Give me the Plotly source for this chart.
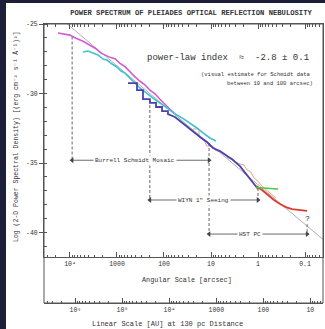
import numpy as np
import plotly.graph_objects as go

# ---------------- data ----------------
# Burrell Schmidt (magenta)
mag_s = [17990, 13430, 10000, 7450, 5290, 3750, 2800, 2190, 1800, 1409, 1103, 863, 676, 529, 414, 324, 254, 199, 155, 122, 95, 74.5, 61.3]
mag_p = [-25.65, -25.72, -25.80, -26.03, -26.24, -26.53, -26.78, -27.10, -27.25, -27.40, -27.50, -27.83, -28.07, -28.47, -28.80, -29.12, -29.37, -29.76, -30.02, -30.41, -30.74, -31.13, -31.40]

# Schmidt second field (cyan)
cyan_s = [5290, 4140, 3240, 2535, 1985, 1633, 1277, 1000, 822, 676, 529, 414, 324, 254, 199, 141, 105, 74.5, 52.8, 37.5, 28.0, 19.9, 14.8, 10.5, 7.83]
cyan_p = [-27.01, -26.94, -27.09, -27.23, -27.52, -27.59, -27.88, -28.09, -28.38, -28.53, -28.89, -29.25, -29.60, -29.89, -30.18, -30.54, -30.83, -31.19, -31.55, -31.84, -32.12, -32.48, -32.84, -33.20, -33.42]

# dark blue (steppy -> smooth)
blue_s = [583, 375, 375, 280, 280, 199, 199, 148, 148, 110, 110, 82.3, 82.3, 58.4, 45.7, 34.1, 24.2, 17.1, 12.2, 9.06, 6.44, 4.57, 3.41, 2.42, 1.71, 1.34, 1.0]
blue_p = [-29.25, -29.25, -29.75, -29.75, -30.40, -30.40, -30.68, -30.68, -30.97, -30.97, -31.26, -31.26, -31.48, -31.69, -31.98, -32.34, -32.77, -33.13, -33.49, -33.92, -34.14, -34.50, -34.78, -35.22, -35.86, -36.37, -36.87]

# WIYN (salmon, steppy)
wiyn_s = [24.2, 18.0, 18.0, 14.1, 12.2, 9.52, 8.22, 6.44, 5.04, 4.35, 3.57, 3.08, 2.42, 1.99, 1.71, 1.41, 1.22, 1.0, 0.822, 0.676, 0.556, 0.414]
wiyn_p = [-32.55, -32.55, -33.13, -33.35, -33.78, -33.78, -34.07, -34.21, -34.42, -34.64, -34.64, -34.93, -35.07, -35.14, -35.50, -35.65, -36.08, -36.30, -36.66, -36.94, -37.16, -37.52]

# HST PC (red)
hst_s = [1.10, 0.822, 0.612, 0.457, 0.340, 0.254, 0.189, 0.141, 0.110, 0.0906]
hst_p = [-36.66, -36.94, -37.30, -37.66, -37.95, -38.17, -38.31, -38.38, -38.42, -38.45]

# green short segment
green_s = [1.10, 0.64, 0.375]
green_p = [-36.76, -36.80, -36.87]

# power-law fit line (gray)
fit_slope = 2.85
fit_intercept = -36.56
fit_s = [10 ** 4.6, 10 ** -1.45]

# range markers: (label, s_left, s_right, logP, label centre s)
ranges = [
    ("Burrell Schmidt Mosaic", 9000, 11, -34.8, 10 ** 2.62),
    ("WIYN 1\" Seeing", 200, 1, -37.66, 10 ** 1.15),
    ("HST PC", 11, 0.09, -40.11, 10 ** 0.17),
]
# dashed verticals: (s, P_top, P_bottom)
vlines = [(9000, -25.9, -34.8), (200, -30.47, -37.66), (11, -33.56, -40.11),
          (1, -36.8, -37.66), (0.09, -39.4, -40.11)]

ang_ticks = [1e4, 1e3, 100, 10, 1, 0.1]
ang_text = ["10\u2074", "1000", "100", "10", "1", "0.1"]
au_ticks = [1e6, 1e5, 1e4, 1e3, 100, 10]
au_text = ["10\u2076", "10\u2075", "10\u2074", "1000", "100", "10"]
y_ticks = [-25, -30, -35, -40]
y_text = ["-25", "-30", "-35", "-40"]

# ---------------- geometry ----------------
W, H = 325, 329
L, R, T, B = 44, 2, 24, 26
PW, PH = W - L - R, H - T - B
def px(x):
    return (x - L) / PW
def py(y):
    return (H - B - y) / PH

FONT = "Liberation Mono, DejaVu Sans Mono, monospace"
TXT = "#333333"
AX = "#555555"

fig = go.Figure()

fit_p = [fit_intercept + fit_slope * np.log10(s) for s in fit_s]
fig.add_trace(go.Scatter(x=fit_s, y=fit_p, mode="lines", line=dict(color="#b0b0b0", width=1)))

for s, p0, p1 in vlines:
    fig.add_trace(go.Scatter(x=[s, s], y=[p0, p1], mode="lines",
                             line=dict(color="#666666", width=1, dash="3px,2px")))

for label, sl, sr, p, sc in ranges:
    fig.add_trace(go.Scatter(x=[sl, sr], y=[p, p], mode="lines+markers",
                             line=dict(color="#444444", width=0.8),
                             marker=dict(symbol=["triangle-left", "triangle-right"], size=5,
                                         color="#444444")))

fig.add_trace(go.Scatter(x=wiyn_s, y=wiyn_p, mode="lines", line=dict(color="#f0a084", width=1)))
fig.add_trace(go.Scatter(x=mag_s, y=mag_p, mode="lines", line=dict(color="#d35bd3", width=1.6)))
fig.add_trace(go.Scatter(x=cyan_s, y=cyan_p, mode="lines", line=dict(color="#3fc2cc", width=1.6)))
fig.add_trace(go.Scatter(x=blue_s, y=blue_p, mode="lines", line=dict(color="#4a42b0", width=1.8)))
fig.add_trace(go.Scatter(x=hst_s, y=hst_p, mode="lines", line=dict(color="#e03a2e", width=1.8)))
fig.add_trace(go.Scatter(x=green_s, y=green_p, mode="lines", line=dict(color="#3fd13f", width=1.5)))

# dummy trace to activate the AU axis
fig.add_trace(go.Scatter(x=[1e3], y=[-60], xaxis="x2", mode="markers",
                         marker=dict(opacity=0), hoverinfo="skip"))

annotations = []
for label, sl, sr, p, sc in ranges:
    annotations.append(dict(x=np.log10(sc), y=p, xref="x", yref="y", text=label,
                            showarrow=False, bgcolor="white", borderpad=1,
                            font=dict(family=FONT, size=6, color=TXT)))

annotations += [
    dict(x=np.log10(0.09), y=-38.96, xref="x", yref="y", text="?", showarrow=False,
         font=dict(family=FONT, size=8, color=TXT)),
    dict(x=px(145), y=py(58), xref="paper", yref="paper", xanchor="left", yanchor="middle",
         text="power-law index  \u2248  -2.8 \u00b1 0.1", showarrow=False,
         font=dict(family=FONT, size=9, color=TXT)),
    dict(x=px(313), y=py(75), xref="paper", yref="paper", xanchor="right", yanchor="middle",
         text="(visual estimate for Schmidt data", showarrow=False,
         font=dict(family=FONT, size=5.5, color=TXT)),
    dict(x=px(315), y=py(83), xref="paper", yref="paper", xanchor="right", yanchor="middle",
         text="between 10 and 100 arcsec)", showarrow=False,
         font=dict(family=FONT, size=5.5, color=TXT)),
    dict(x=px(187), y=py(280), xref="paper", yref="paper", xanchor="center", yanchor="middle",
         text="Angular Scale [arcsec]", showarrow=False,
         font=dict(family=FONT, size=6.8, color=TXT)),
    dict(x=px(167), y=py(324), xref="paper", yref="paper", xanchor="center", yanchor="middle",
         text="Linear Scale [AU] at 130 pc Distance", showarrow=False,
         font=dict(family=FONT, size=7, color=TXT)),
    dict(x=px(16), y=py(137), xref="paper", yref="paper", xanchor="center", yanchor="middle",
         textangle=-90,
         text="Log (2-D Power Spectral Density) [(erg cm\u207b\u00b2 s\u207b\u00b9 \u00c5\u207b\u00b9)\u00b2]",
         showarrow=False, font=dict(family=FONT, size=6.5, color=TXT)),
]

shapes = [
    dict(type="rect", xref="paper", yref="paper", x0=0, x1=1, y0=0, y1=1,
         line=dict(color=AX, width=1)),
    dict(type="rect", xref="paper", yref="paper", x0=px(0), x1=px(6), y0=py(H), y1=py(0),
         fillcolor="#1d1f3a", line=dict(width=0), layer="above"),
    dict(type="rect", xref="paper", yref="paper", x0=px(0), x1=px(W), y0=py(3), y1=py(0),
         fillcolor="#1d1f3a", line=dict(width=0), layer="above"),
]

def minor_vals(lo, hi):
    out = []
    for k in range(lo, hi + 1):
        for m in range(2, 10):
            out.append(m * 10.0 ** k)
    return out

ang_range = [4.553, -1.383]
au_off = np.log10(130)

fig.update_layout(
    width=W, height=H,
    margin=dict(l=L, r=R, t=T, b=B),
    paper_bgcolor="white", plot_bgcolor="white",
    showlegend=False,
    title=dict(text="<b>POWER SPECTRUM OF PLEIADES OPTICAL REFLECTION NEBULOSITY</b>",
               x=191 / W, xanchor="center", y=1 - 12 / H, yanchor="middle",
               font=dict(family=FONT, size=7.2, color=TXT)),
    xaxis=dict(type="log", range=ang_range, showgrid=False, zeroline=False,
               showline=True, linecolor=AX, linewidth=1, mirror="allticks",
               ticks="inside", ticklen=5, tickcolor=AX, tickwidth=1,
               tickvals=ang_ticks, ticktext=ang_text,
               tickfont=dict(family=FONT, size=6.5, color=TXT),
               minor=dict(tickvals=minor_vals(-2, 4), ticks="inside", ticklen=2.5,
                          tickcolor=AX, showgrid=False)),
    xaxis2=dict(type="log", range=[ang_range[0] + au_off, ang_range[1] + au_off],
                overlaying="x", anchor="free", position=0, side="bottom",
                showgrid=False, zeroline=False, showline=True, linecolor=AX, linewidth=1,
                ticks="inside", ticklen=5, tickcolor=AX, tickwidth=1,
                tickvals=au_ticks, ticktext=au_text,
                tickfont=dict(family=FONT, size=6.5, color=TXT),
                minor=dict(tickvals=minor_vals(0, 6), ticks="inside", ticklen=2.5,
                           tickcolor=AX, showgrid=False)),
    yaxis=dict(domain=[py(257), 1], range=[-41.76, -25], showgrid=False, zeroline=False,
               showline=True, linecolor=AX, linewidth=1, mirror=True,
               ticks="outside", ticklen=4, tickcolor=AX,
               tickvals=y_ticks, ticktext=y_text,
               tickfont=dict(family=FONT, size=6.5, color=TXT),
               minor=dict(dtick=1, ticks="inside", ticklen=2.5, tickcolor=AX, showgrid=False)),
    annotations=annotations,
    shapes=shapes,
)

fig.write_html("out.html")
